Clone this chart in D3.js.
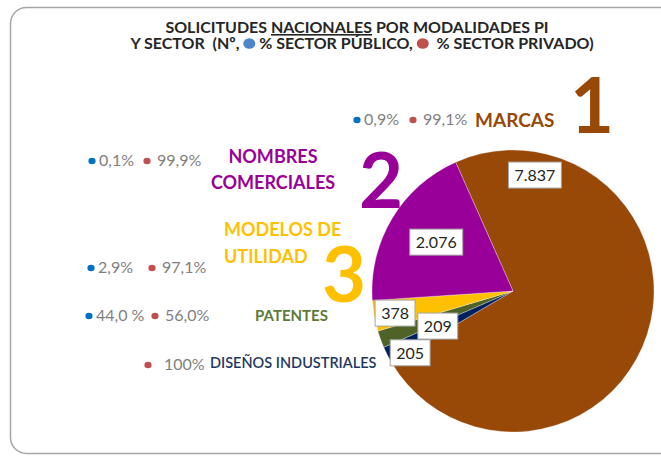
<!DOCTYPE html>
<html>
<head>
<meta charset="utf-8">
<script src="https://cdn.jsdelivr.net/npm/d3@7"></script>
<style>
  body { margin: 0; background: #fff; }
  svg { display: block; font-family: Lato, "Open Sans", sans-serif; }
</style>
</head>
<body>
<div id="chart"></div>
<script>
const W = 661, H = 457;

// data (slice order = Excel order, clockwise from the first slice angle)
const categories = ['MARCAS', 'DISEÑOS INDUSTRIALES', 'PATENTES', 'MODELOS DE UTILIDAD', 'NOMBRES COMERCIALES'];
const values = [7837, 205, 209, 378, 2076];
const valueLabels = ['7.837', '205', '209', '378', '2.076'];
const pctPublic = ['0,9%', null, '44,0 %', '2,9%', '0,1%'];
const pctPrivate = ['99,1%', '100%', '56,0%', '97,1%', '99,9%'];
const ranks = ['1', null, null, '3', '2'];
const colors = ['#984807', '#002060', '#4F6228', '#FFC000', '#990099'];

const titleLine1 = ['SOLICITUDES ', 'NACIONALES', ' POR MODALIDADES PI'];
const titleLine2 = ['Y SECTOR\u00A0\u00A0(Nº,\u00A0', '\u00A0% SECTOR PÚBLICO,\u00A0', '\u00A0\u00A0% SECTOR PRIVADO)'];

const BLUE = '#0070C0', RED = '#C0504D', GREY = '#7F7F7F';

// layout
const CX = 513, CY = 291, R = 141;
const START = -24 * Math.PI / 180;
// data-label placement: angle (deg, clockwise from 12 o'clock) and radius
const labelPlace = [[10.7, 118], [-121, 120], [-115, 83], [-100.6, 120], [-57.5, 91]];
// category name: anchor, x, baselines, size
const namePlace = [
  { anchor: 'start', x: 475, ys: [127], size: 19, weight: 700, lines: ['MARCAS'] },
  { anchor: 'start', x: 210, ys: [368], size: 14.5, weight: 600, lines: ['DISEÑOS INDUSTRIALES'] },
  { anchor: 'start', x: 255, ys: [321], size: 15, weight: 700, lines: ['PATENTES'] },
  { anchor: 'start', x: 224, ys: [236, 263], size: 18, weight: 700, lines: ['MODELOS DE', 'UTILIDAD'] },
  { anchor: 'middle', x: 273, ys: [163, 189], size: 18, weight: 700, lines: ['NOMBRES', 'COMERCIALES'] }
];
const nameColors = ['#984807', '#1F3864', '#5E7A35', '#FFC000', '#990099'];
const rankPlace = [[570, 133], null, null, [322, 302], [359, 208]];
// percentage rows: blue dot x, red dot x, baseline
const pctPlace = [[357, 413, 125], [null, 148, 370], [89, 155, 321], [91, 152, 273], [92, 147, 166]];

const svg = d3.select('#chart').append('svg')
  .attr('width', W).attr('height', H)
  .attr('viewBox', [0, 0, W, H]);

// rounded chart frame (runs off the right/bottom of the crop)
svg.append('rect')
  .attr('x', 10.5).attr('y', 7.5)
  .attr('width', 720).attr('height', 446)
  .attr('rx', 16)
  .attr('fill', '#fff')
  .attr('stroke', '#a6a6a6').attr('stroke-width', 1.5);

// Title
const t1 = svg.append('text')
  .attr('x', 357).attr('y', 33)
  .attr('text-anchor', 'middle')
  .attr('font-size', 16).attr('font-weight', 700).attr('fill', '#262626');
titleLine1.forEach((s, i) => {
  const ts = t1.append('tspan').text(s.replace(/ /g, '\u00A0'));
  if (i === 1) ts.style('text-decoration', 'underline');
});

// second title line with coloured dots, laid out by measuring
const t2 = svg.append('g');
const segs = [];
titleLine2.forEach((s) => {
  segs.push(t2.append('text')
    .attr('y', 49).attr('font-size', 16).attr('font-weight', 700).attr('fill', '#262626')
    .text(s));
});
const dotW = 12;
const widths = segs.map((s) => s.node().getComputedTextLength());
const total = d3.sum(widths) + dotW * 2;
let xx = 362 - total / 2;
segs.forEach((s, i) => {
  s.attr('x', xx);
  xx += widths[i];
  if (i < 2) {
    t2.append('ellipse')
      .attr('cx', xx + dotW / 2).attr('cy', 43.5)
      .attr('rx', 6).attr('ry', 5.3)
      .attr('fill', i === 0 ? '#4A86C8' : RED);
    xx += dotW;
  }
});

// Pie
const pie = d3.pie().sort(null).value((d) => d)
  .startAngle(START).endAngle(START + 2 * Math.PI);
const arcs = pie(values);
const arc = d3.arc().innerRadius(0).outerRadius(R);

const g = svg.append('g').attr('transform', `translate(${CX},${CY})`);
g.selectAll('path.slice')
  .data(arcs)
  .enter().append('path')
  .attr('class', 'slice')
  .attr('d', arc)
  .attr('fill', (d, i) => colors[i])
  .attr('stroke', '#fff').attr('stroke-width', 0.3);

// data labels in white boxes
const lbl = g.selectAll('g.lbl')
  .data(arcs)
  .enter().append('g')
  .attr('class', 'lbl')
  .attr('transform', (d, i) => {
    const a = labelPlace[i][0] * Math.PI / 180;
    const r = labelPlace[i][1];
    const c = d3.arc().innerRadius(r).outerRadius(r).centroid({ startAngle: a, endAngle: a });
    return `translate(${c[0]},${c[1]})`;
  });
lbl.append('rect');
lbl.append('text')
  .attr('text-anchor', 'middle')
  .attr('dy', '0.36em')
  .attr('font-size', 16)
  .attr('fill', '#262626')
  .text((d, i) => valueLabels[i]);
lbl.each(function () {
  const gg = d3.select(this);
  const bb = gg.select('text').node().getBBox();
  gg.select('rect')
    .attr('x', -bb.width / 2 - 6).attr('y', -13)
    .attr('width', bb.width + 12).attr('height', 26)
    .attr('fill', '#fff').attr('stroke', '#a6a6a6').attr('stroke-width', 1);
});

// Category names
categories.forEach((c, i) => {
  const p = namePlace[i];
  const tx = svg.append('text')
    .attr('text-anchor', p.anchor)
    .attr('font-size', p.size).attr('font-weight', p.weight)
    .attr('fill', nameColors[i]);
  p.lines.forEach((ln, j) => {
    tx.append('tspan').attr('x', p.x).attr('y', p.ys[j]).text(ln);
  });
});

// Big rank numbers
ranks.forEach((r, i) => {
  if (!r) return;
  svg.append('text')
    .attr('x', rankPlace[i][0]).attr('y', rankPlace[i][1])
    .attr('font-size', 76).attr('font-weight', 700)
    .attr('fill', colors[i])
    .text(r);
});

// Public / private percentages
categories.forEach((c, i) => {
  const [bx, rx, y] = pctPlace[i];
  if (pctPublic[i] && bx != null) {
    svg.append('ellipse').attr('cx', bx).attr('cy', y - 5).attr('rx', 3.6).attr('ry', 3.3).attr('fill', BLUE);
    svg.append('text').attr('x', bx + 7).attr('y', y)
      .attr('font-size', 16).attr('fill', GREY).text(pctPublic[i]);
  }
  svg.append('ellipse').attr('cx', rx).attr('cy', y - 5).attr('rx', 3.6).attr('ry', 3.3).attr('fill', RED);
  svg.append('text').attr('x', rx + (pctPublic[i] ? 10 : 16)).attr('y', y)
    .attr('font-size', 16).attr('fill', GREY).text(pctPrivate[i]);
});
</script>
</body>
</html>
